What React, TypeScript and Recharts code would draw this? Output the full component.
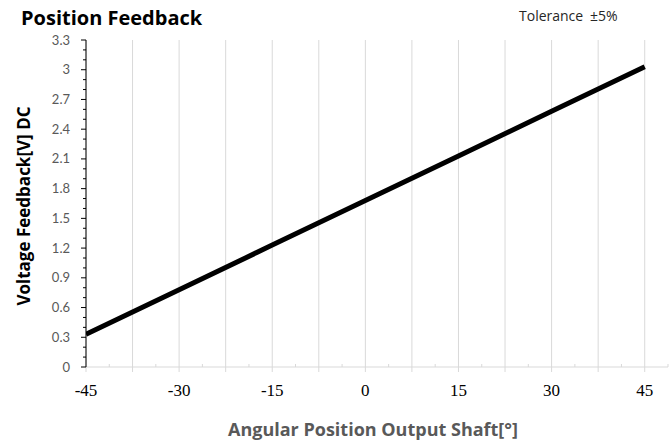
import { CartesianGrid, Line, LineChart, XAxis, YAxis } from 'recharts';

// values
const angles = [-45, -30, -15, 0, 15, 30, 45];
const voltages = [0.33, 0.78, 1.23, 1.68, 2.13, 2.58, 3.03];

const xLabels = [-45, -30, -15, 0, 15, 30, 45];
const xGrid = [-45, -37.5, -30, -22.5, -15, -7.5, 0, 7.5, 15, 22.5, 30, 37.5, 45];
const xMinor = [-41.25, -33.75, -26.25, -18.75, -11.25, -3.75, 3.75, 11.25, 18.75, 26.25, 33.75, 41.25, 48.75];

const yLabels = [0, 0.3, 0.6, 0.9, 1.2, 1.5, 1.8, 2.1, 2.4, 2.7, 3, 3.3];
const yMinor = [
  0.1, 0.2, 0.4, 0.5, 0.7, 0.8, 1.0, 1.1, 1.3, 1.4, 1.6, 1.7, 1.9, 2.0, 2.2, 2.3,
  2.5, 2.6, 2.8, 2.9, 3.1, 3.2,
];

const chartData = angles.map((a, i) => ({ angle: a, volt: voltages[i] }));

const xTicks = [...xGrid, ...xMinor].sort((a, b) => a - b);
const yTicks = [...yLabels, ...yMinor].sort((a, b) => a - b);

const near = (list: number[], v: number) => list.some((t) => Math.abs(t - v) < 1e-6);

function XTick(props: any) {
  const { x, y, payload } = props;
  const v = payload.value;
  if (!near(xGrid, v)) {
    return <line x1={x} x2={x} y1={y} y2={y - 3} stroke="#d9d9d9" />;
  }
  return (
    <g>
      <line x1={x} x2={x} y1={y} y2={y + 5} stroke="#d9d9d9" />
      {near(xLabels, v) && (
        <text
          x={x}
          y={y + 29}
          textAnchor="middle"
          fontFamily="'Liberation Serif', serif"
          fontSize={17}
          fill="#000"
        >
          {v}
        </text>
      )}
    </g>
  );
}

function YTick(props: any) {
  const { x, y, payload } = props;
  const v = payload.value;
  if (!near(yLabels, v)) {
    return <line x1={x} x2={x - 3} y1={y} y2={y} stroke="#000" />;
  }
  return (
    <g>
      <line x1={x} x2={x - 5} y1={y} y2={y} stroke="#000" />
      <text
        x={x - 16}
        y={y + 4.5}
        textAnchor="end"
        fontFamily="Lato, sans-serif"
        fontSize={13}
        fill="#595959"
      >
        {v}
      </text>
    </g>
  );
}

export default function App() {
  return (
    <div style={{ position: 'absolute', left: 0, top: 0, width: 671, height: 448, background: '#fff' }}>
      <LineChart
        width={671}
        height={448}
        data={chartData}
        margin={{ top: 40, right: 3, bottom: 0, left: 0 }}
      >
        <CartesianGrid horizontal={false} verticalValues={xGrid} stroke="#d9d9d9" strokeWidth={1} />
        <XAxis
          dataKey="angle"
          type="number"
          domain={[-45, 48.75]}
          ticks={xTicks}
          interval={0}
          height={81}
          tickSize={0}
          tickMargin={0}
          tickLine={false}
          axisLine={{ stroke: '#d9d9d9' }}
          tick={<XTick />}
          allowDataOverflow
        />
        <YAxis
          type="number"
          domain={[0, 3.3]}
          ticks={yTicks}
          interval={0}
          width={86}
          tickSize={0}
          tickMargin={0}
          tickLine={false}
          axisLine={{ stroke: '#000' }}
          tick={<YTick />}
          allowDataOverflow
        />
        <Line
          type="linear"
          dataKey="volt"
          stroke="#000"
          strokeWidth={5}
          dot={false}
          isAnimationActive={false}
        />
      </LineChart>
      <svg
        width={671}
        height={448}
        style={{ position: 'absolute', left: 0, top: 0, pointerEvents: 'none' }}
      >
        <text x={21} y={25} fontFamily="'Open Sans', sans-serif" fontWeight={700} fontSize={20} fill="#000">
          Position Feedback
        </text>
        <text y={21} fontFamily="'Open Sans', sans-serif" fontSize={14} fill="#262626">
          <tspan x={519}>Tolerance</tspan>
          <tspan x={590}>±5%</tspan>
        </text>
        <text
          transform="translate(30, 206) rotate(-90)"
          textAnchor="middle"
          fontFamily="'Open Sans', sans-serif"
          fontWeight={700}
          fontSize={17}
          fill="#000"
        >
          Voltage Feedback[V] DC
        </text>
        <text
          x={373}
          y={436}
          textAnchor="middle"
          fontFamily="'Open Sans', sans-serif"
          fontWeight={700}
          fontSize={18}
          fill="#595959"
        >
          Angular Position Output Shaft[°]
        </text>
      </svg>
    </div>
  );
}
